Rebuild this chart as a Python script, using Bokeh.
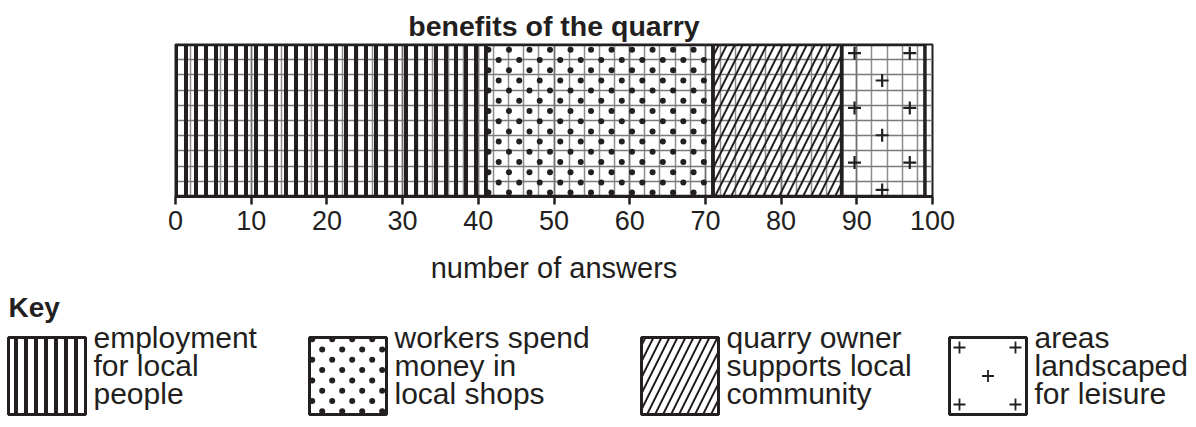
import numpy as np
from bokeh.plotting import figure
from bokeh.models import SingleIntervalTicker, FixedTicker, Title, ColumnDataSource, Range1d
from bokeh.layouts import column
from bokeh.core.properties import value
from bokeh.embed import file_html
from bokeh.resources import INLINE

# ---------------- data ----------------
title_text = "benefits of the quarry"
categories = ["employment for local people",
              "workers spend money in local shops",
              "quarry owner supports local community",
              "areas landscaped for leisure"]
answers = [41, 30, 17, 11]
key_lines = [["employment", "for local", "people"],
             ["workers spend", "money in", "local shops"],
             ["quarry owner", "supports local", "community"],
             ["areas", "landscaped", "for leisure"]]
x_ticks = list(range(0, 101, 10))
x_label = "number of answers"
key_title = "Key"

# ---------------- style ----------------
INK = "#231f20"
FONT = "Liberation Sans"
patterns = ["vertical_line", "blank", "right_diagonal_line", "blank"]
h_scales = [10, 10, 16, 10]
h_weights = [4, 1, 2, 1]

lefts = np.concatenate([[0], np.cumsum(answers)[:-1]]).astype(float)
rights = np.cumsum(answers).astype(float)
src = ColumnDataSource(dict(left=lefts, right=rights, cat=categories,
                            pat=patterns, hs=h_scales, hw=h_weights))

p = figure(width=1196, height=290, x_range=Range1d(0, 100), y_range=Range1d(0, 10),
           output_backend="svg", toolbar_location=None,
           min_border_left=175, min_border_right=264, min_border_top=44,
           min_border_bottom=94)
p.frame_align = False
p.background_fill_color = "white"
p.border_fill_color = "white"
p.outline_line_color = INK
p.outline_line_width = 2

t = Title(text=title_text, align="center", text_font=FONT, text_font_size="28.5px",
          text_font_style="bold", text_color=INK, standoff=2, vertical_align="top")
p.add_layout(t, "above")

p.xaxis.ticker = SingleIntervalTicker(interval=10, num_minor_ticks=5)
p.xaxis.major_label_overrides = {v: str(v) for v in x_ticks}
p.xaxis.axis_line_color = INK
p.xaxis.axis_line_width = 3
p.xaxis.major_tick_line_color = INK
p.xaxis.major_tick_line_width = 2.5
p.xaxis.major_tick_out = 8
p.xaxis.major_tick_in = 0
p.xaxis.minor_tick_line_color = None
p.xaxis.major_label_standoff = 6
p.xaxis.major_label_text_font = FONT
p.xaxis.major_label_text_font_size = "27px"
p.xaxis.major_label_text_color = INK
p.xaxis.axis_label = x_label
p.xaxis.axis_label_text_font = FONT
p.xaxis.axis_label_text_font_size = "29px"
p.xaxis.axis_label_text_font_style = "normal"
p.xaxis.axis_label_text_color = INK
p.xaxis.axis_label_standoff = 19
p.yaxis.visible = False

p.xgrid.grid_line_color = "#6f6f6f"
p.xgrid.grid_line_width = 1.5
p.xgrid.minor_grid_line_color = "#8c8c8c"
p.xgrid.minor_grid_line_width = 1.5
p.ygrid.ticker = FixedTicker(ticks=list(range(0, 11)))
p.ygrid.grid_line_color = "#7a7a7a"
p.ygrid.grid_line_width = 1.5

# dot texture of the second segment (staggered), derived from its bounds
d_l, d_r = lefts[1], rights[1]
ddx = 2.71
dx_, dy_ = [], []
for i in range(15):
    yy = 9.65 - i * 0.671
    xx = d_l + 0.34 + (i % 2) * ddx / 2
    while xx <= d_r - 0.3:
        dx_.append(xx)
        dy_.append(yy)
        xx += ddx
p.scatter(dx_, dy_, marker="circle", size=6, fill_color=INK, line_color=None)

p.quad(left="left", right="right", bottom=0, top=10, source=src,
       fill_color=None, hatch_pattern="pat", hatch_scale="hs", hatch_weight="hw",
       hatch_color=INK, line_color=INK, line_width=3.5)

# plus-sign texture of the last segment, derived from its bounds
last_l, last_r = lefts[-1], rights[-1]
pdx = 3.65
px, py = [], []
for i in range(6):
    yy = 10 - 0.57 - i * 1.8
    xx = last_l + 1.7 + (i % 2) * pdx
    while xx < last_r - 0.5:
        px.append(xx)
        py.append(yy)
        xx += 2 * pdx
p.scatter(px, py, marker="cross", size=13, line_width=2.2, line_color=INK)

# ---------------- key (coordinates in page pixels) ----------------
k = figure(width=1196, height=137, x_range=Range1d(0, 1196), y_range=Range1d(427, 290),
           output_backend="svg", toolbar_location=None, min_border=0)
k.frame_align = False
k.axis.visible = False
k.grid.visible = False
k.outline_line_color = None
k.background_fill_color = "white"
k.border_fill_color = "white"

box_left = [8, 309, 641, 949]
box_w = 77
box_top, box_bot = 337, 414

# staggered dots in key box 2
bl2 = box_left[1]
kdx, kdy = [], []
for r in range(8):
    yy = box_top + 1.7 + r * 10.3
    xx = bl2 + (2.7 if r % 2 == 0 else 12.7)
    while xx <= bl2 + box_w - 2:
        kdx.append(xx)
        kdy.append(yy)
        xx += 20
k.scatter(kdx, kdy, marker="circle", size=6, fill_color=INK, line_color=None)

ksrc = ColumnDataSource(dict(left=box_left, right=[b + box_w for b in box_left],
                             pat=patterns, hs=h_scales, hw=h_weights))
k.quad(left="left", right="right", bottom=box_bot, top=box_top, source=ksrc,
       fill_color=None, hatch_pattern="pat", hatch_scale="hs", hatch_weight="hw",
       hatch_color=INK, line_color=INK, line_width=3)

bl = box_left[3]
kx = [bl + 10, bl + box_w - 11, bl + box_w / 2, bl + 10, bl + box_w - 11]
ky = [box_top + 10, box_top + 10, (box_top + box_bot) / 2, box_bot - 10, box_bot - 10]
k.scatter(kx, ky, marker="cross", size=12, line_width=1.8, line_color=INK)

k.text(x=[8], y=[291], text=[key_title], text_font=value(FONT), text_font_size="28px",
       text_font_style="bold", text_color=INK, text_baseline="top")
baselines = [337, 365, 393]
tx, ty, tt = [], [], []
for i, lines in enumerate(key_lines):
    for j, line in enumerate(lines):
        tx.append(box_left[i] + box_w + 8)
        ty.append(baselines[j])
        tt.append(line)
k.text(x=tx, y=ty, text=tt, text_font=value(FONT), text_font_size="30px",
       text_color=INK, text_baseline="alphabetic", text_align="left")

layout = column(p, k, spacing=0)
open("out.html", "w").write(file_html(layout, INLINE))
